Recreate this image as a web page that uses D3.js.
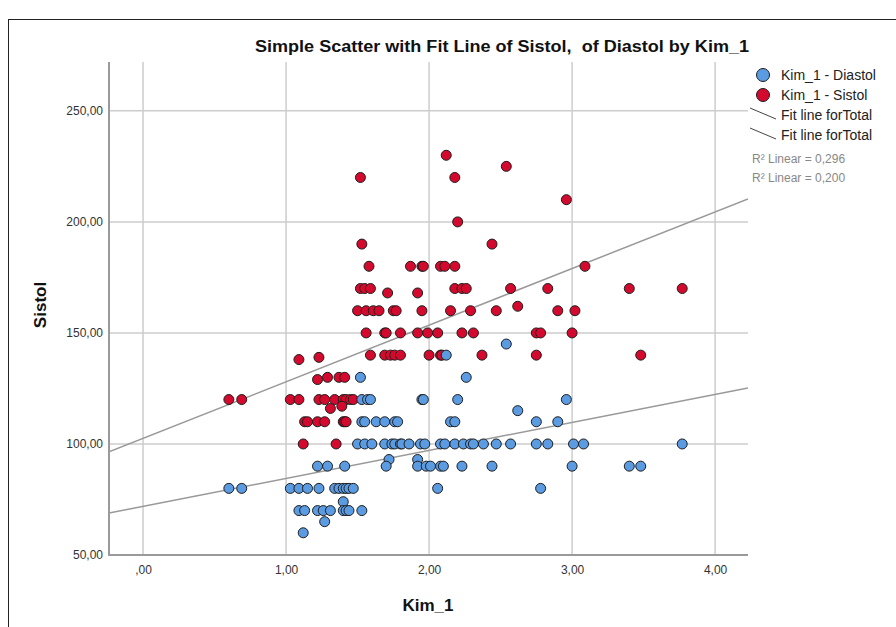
<!DOCTYPE html>
<html>
<head>
<meta charset="utf-8">
<script src="https://cdn.jsdelivr.net/npm/d3@7"></script>
<style>
  body { margin: 0; background: #fff; }
  svg { display: block; font-family: "Liberation Sans", Arial, sans-serif; }
</style>
</head>
<body>
<svg id="chart" width="896" height="627"></svg>
<script>
// Sistol (red) points
var sistolKim = [2.12, 2.54, 1.52, 2.18, 2.96, 2.20, 1.53, 2.44,
  1.58, 1.87, 1.95, 1.96, 2.08, 2.11, 2.18, 3.09,
  1.52, 1.55, 1.59, 2.18, 2.23, 2.26, 2.57, 2.83, 3.40, 3.77,
  1.71, 1.92, 2.62,
  1.50, 1.56, 1.61, 1.65, 1.75, 1.77, 1.95, 2.15, 2.29, 2.47, 2.90, 3.02,
  1.56, 1.69, 1.70, 1.80, 1.92, 1.99, 2.06, 2.23, 2.31, 2.75, 2.78, 3.00,
  1.59, 1.69, 1.73, 1.76, 1.80, 2.00, 2.08, 2.09, 2.37, 2.75, 3.48,
  1.23, 1.09, 1.29, 1.37, 1.41, 1.22,
  0.60, 0.69, 1.03, 1.09, 1.23, 1.27, 1.34, 1.40, 1.42, 1.45, 1.47,
  1.39, 1.31,
  1.13, 1.15, 1.22, 1.27, 1.40, 1.41, 1.42,
  1.12, 1.35];
var sistolVal = [230, 225, 220, 220, 210, 200, 190, 190,
  180, 180, 180, 180, 180, 180, 180, 180,
  170, 170, 170, 170, 170, 170, 170, 170, 170, 170,
  168, 168, 162,
  160, 160, 160, 160, 160, 160, 160, 160, 160, 160, 160, 160,
  150, 150, 150, 150, 150, 150, 150, 150, 150, 150, 150, 150,
  140, 140, 140, 140, 140, 140, 140, 140, 140, 140, 140,
  139, 138, 130, 130, 130, 129,
  120, 120, 120, 120, 120, 120, 120, 120, 120, 120, 120,
  117, 116,
  110, 110, 110, 110, 110, 110, 110,
  100, 100];

// Diastol (blue) points
var diastolKim = [2.54, 2.12, 1.52, 2.26,
  1.53, 1.57, 1.59, 1.95, 1.96, 2.20, 2.96,
  2.62,
  1.53, 1.55, 1.63, 1.69, 1.76, 1.78, 2.15, 2.18, 2.75, 2.90,
  1.50, 1.55, 1.60, 1.69, 1.74, 1.76, 1.80, 1.81, 1.86, 1.94, 1.97, 2.08, 2.11,
  2.18, 2.24, 2.29, 2.31, 2.38, 2.47, 2.57, 2.75, 2.83, 3.01, 3.08, 3.77,
  1.72, 1.92,
  1.22, 1.29, 1.41, 1.70, 1.92, 1.98, 2.01, 2.08, 2.10, 2.23, 2.44, 3.00, 3.40, 3.48,
  0.60, 0.69, 1.03, 1.09, 1.15, 1.23, 1.34, 1.37, 1.40, 1.42, 1.44, 1.47, 2.06, 2.78,
  1.40,
  1.09, 1.13, 1.22, 1.26, 1.31, 1.40, 1.42, 1.44, 1.53,
  1.27, 1.12];
var diastolVal = [145, 140, 130, 130,
  120, 120, 120, 120, 120, 120, 120,
  115,
  110, 110, 110, 110, 110, 110, 110, 110, 110, 110,
  100, 100, 100, 100, 100, 100, 100, 100, 100, 100, 100, 100, 100,
  100, 100, 100, 100, 100, 100, 100, 100, 100, 100, 100, 100,
  93, 93,
  90, 90, 90, 90, 90, 90, 90, 90, 90, 90, 90, 90, 90, 90,
  80, 80, 80, 80, 80, 80, 80, 80, 80, 80, 80, 80, 80, 80,
  74,
  70, 70, 70, 70, 70, 70, 70, 70, 70,
  65, 60];

// fit lines (intercept, slope) and their R2 labels
var fitSistol = [102.5, 25.5];
var fitDiastol = [71.9, 12.6];
var r2Labels = ["R\u00b2 Linear = 0,296", "R\u00b2 Linear = 0,200"];

var xTicks = [0, 1, 2, 3, 4];
var yTicks = [50, 100, 150, 200, 250];
var legendNames = ["Kim_1 - Diastol", "Kim_1 - Sistol"];

var blue = "#5b9be2", red = "#d30a2e";

var svg = d3.select("#chart");
var plotL = 109, plotR = 748, plotT = 62, plotB = 555;

var x = d3.scaleLinear().domain([-0.238, 4.23]).range([plotL, plotR]);
var y = d3.scaleLinear().domain([50, 272]).range([plotB, plotT]);

function fmt(v) {
  var s = v.toFixed(2).replace(".", ",");
  return s.indexOf("0,") === 0 ? s.slice(1) : s;
}

// outer frame
svg.append("rect")
  .attr("x", 8.5).attr("y", 19.5)
  .attr("width", 900).attr("height", 640)
  .attr("fill", "none").attr("stroke", "#222").attr("stroke-width", 1);

// title
svg.append("text")
  .attr("x", 502).attr("y", 52)
  .attr("text-anchor", "middle")
  .style("white-space", "pre")
  .attr("font-size", 16).attr("font-weight", "bold")
  .attr("textLength", 494).attr("lengthAdjust", "spacingAndGlyphs")
  .attr("fill", "#111")
  .text("Simple Scatter with Fit Line of Sistol,  of Diastol by Kim_1");

// gridlines
var grid = svg.append("g").attr("stroke", "#cdcdcd").attr("stroke-width", 1.5);
grid.selectAll(".vg").data(xTicks).join("line")
  .attr("x1", d => x(d)).attr("x2", d => x(d))
  .attr("y1", plotT).attr("y2", plotB);
grid.selectAll(".hg").data(yTicks).join("line")
  .attr("x1", plotL).attr("x2", plotR)
  .attr("y1", d => y(d)).attr("y2", d => y(d));

// axes (labels only; lines drawn below)
var xAxis = svg.append("g")
  .attr("transform", "translate(0," + plotB + ")")
  .call(d3.axisBottom(x).tickValues(xTicks).tickFormat(fmt).tickSize(0).tickPadding(10));
var yAxis = svg.append("g")
  .attr("transform", "translate(" + plotL + ",0)")
  .call(d3.axisLeft(y).tickValues(yTicks).tickFormat(fmt).tickSize(0).tickPadding(6));
[xAxis, yAxis].forEach(function (g) {
  g.select(".domain").remove();
  g.selectAll("text")
    .attr("font-family", "Liberation Sans, Arial, sans-serif")
    .attr("font-size", 12).attr("fill", "#333");
});

svg.append("path")
  .attr("d", "M" + plotL + "," + plotT + "V" + plotB + "H" + plotR)
  .attr("fill", "none").attr("stroke", "#9a9a9a").attr("stroke-width", 2);

// fit lines
svg.append("clipPath").attr("id", "plot")
  .append("rect").attr("x", plotL).attr("y", plotT)
  .attr("width", plotR - plotL).attr("height", plotB - plotT);
var line = d3.line().x(d => x(d[0])).y(d => y(d[1]));
[fitSistol, fitDiastol].forEach(function (f) {
  var dom = x.domain();
  svg.append("path")
    .attr("clip-path", "url(#plot)")
    .attr("d", line(dom.map(k => [k, f[0] + f[1] * k])))
    .attr("fill", "none").attr("stroke", "#999").attr("stroke-width", 1.5);
});

// points
function drawPoints(xs, ys, color) {
  svg.append("g").selectAll("circle")
    .data(xs.map((k, i) => [k, ys[i]]))
    .join("circle")
    .attr("cx", d => x(d[0])).attr("cy", d => y(d[1]))
    .attr("r", 5)
    .attr("fill", color).attr("stroke", "#1e1e1e").attr("stroke-width", 1);
}
drawPoints(sistolKim, sistolVal, red);
drawPoints(diastolKim, diastolVal, blue);

// legend
var leg = svg.append("g").attr("font-size", 14).attr("fill", "#222");
[blue, red].forEach(function (c, i) {
  leg.append("circle").attr("cx", 763).attr("cy", 75 + i * 20).attr("r", 6.5)
    .attr("fill", c).attr("stroke", "#1e1e1e").attr("stroke-width", 1);
  leg.append("text").attr("x", 781).attr("y", 80 + i * 20).text(legendNames[i]);
});
[0, 1].forEach(function (i) {
  leg.append("line")
    .attr("x1", 750).attr("y1", 108 + i * 20)
    .attr("x2", 776).attr("y2", 119 + i * 20)
    .attr("stroke", "#444").attr("stroke-width", 1);
  leg.append("text").attr("x", 781).attr("y", 120 + i * 20).text("Fit line forTotal");
});
r2Labels.forEach(function (t, i) {
  svg.append("text").attr("x", 752).attr("y", 163 + i * 19)
    .attr("font-size", 12).attr("fill", "#888").text(t);
});

// axis titles
svg.append("text")
  .attr("x", 428).attr("y", 611)
  .attr("text-anchor", "middle")
  .attr("font-size", 17).attr("font-weight", "bold").attr("fill", "#111")
  .text("Kim_1");
svg.append("text")
  .attr("transform", "translate(46,305) rotate(-90)")
  .attr("text-anchor", "middle")
  .attr("font-size", 17).attr("font-weight", "bold").attr("fill", "#111")
  .text("Sistol");
</script>
</body>
</html>
